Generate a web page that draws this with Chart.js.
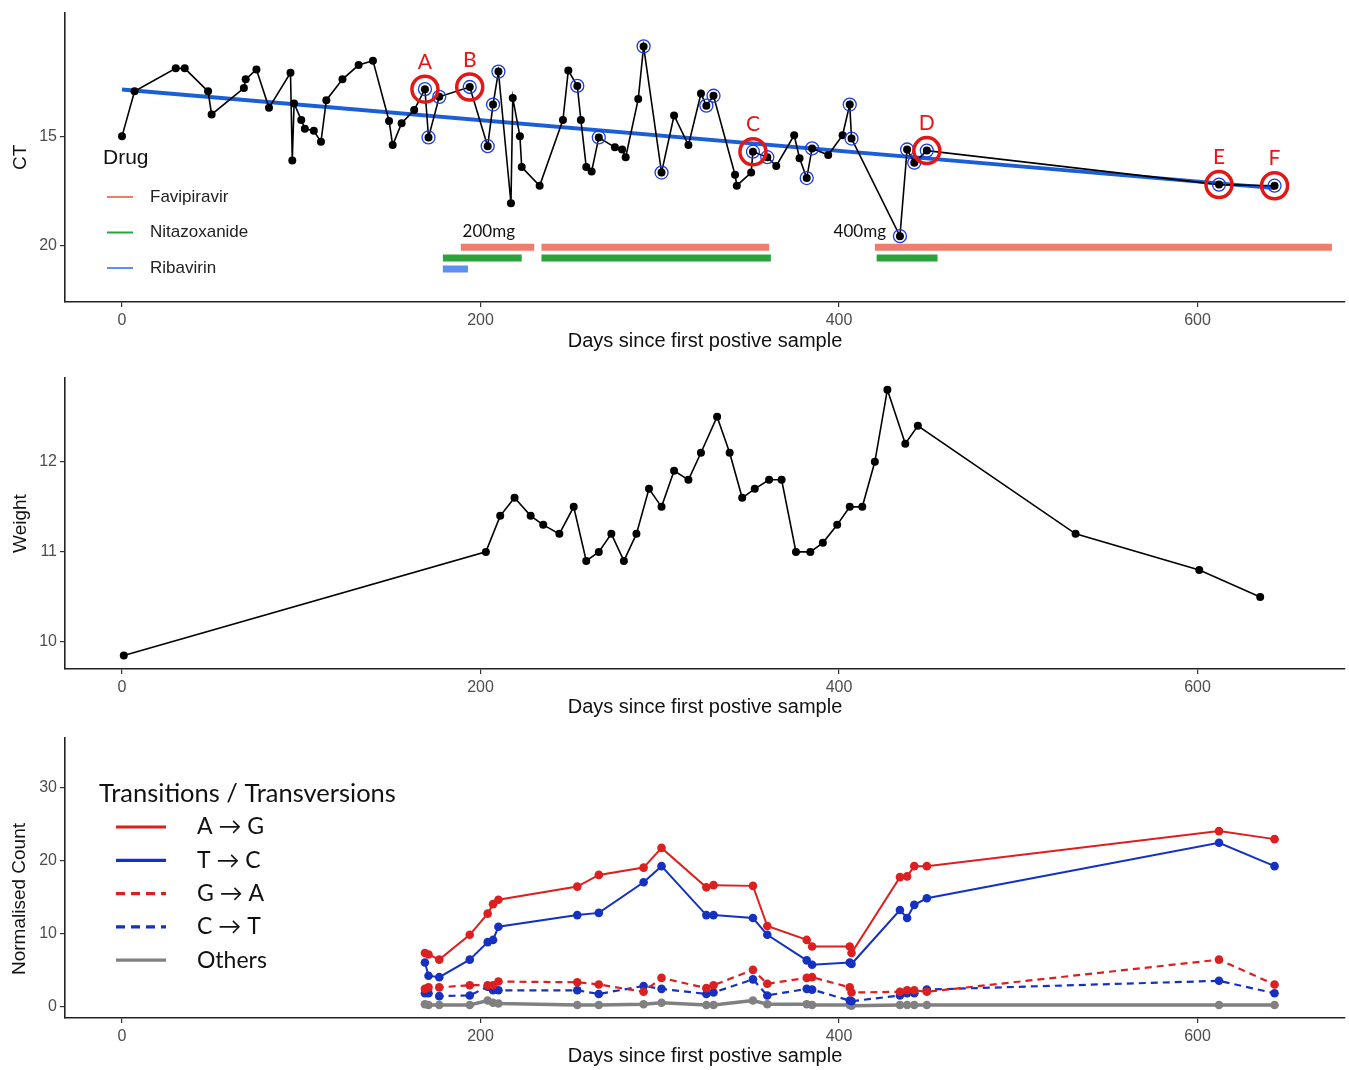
<!DOCTYPE html>
<html>
<head>
<meta charset="utf-8">
<script src="https://cdn.jsdelivr.net/npm/chart.js@4/dist/chart.umd.min.js"></script>
<style>
  body { margin: 0; background: #fff; }
  canvas { position: absolute; left: 0; }
  #ctChart { top: 0; }
  #weightChart { top: 360px; }
  #countChart { top: 725px; }
</style>
</head>
<body>
<canvas id="ctChart" width="1349" height="360"></canvas>
<canvas id="weightChart" width="1349" height="365"></canvas>
<canvas id="countChart" width="1349" height="345"></canvas>
<script>
// ---- data ----
const xTicks = [0, 200, 400, 600];
const ctTicks = [15, 20];
const weightTicks = [10, 11, 12];
const countTicks = [0, 10, 20, 30];

// CT values (top panel)
const ctDays = [0, 7, 30, 35, 48, 50, 68, 69, 75, 82, 94, 95, 96, 100, 102, 107, 111, 114, 123, 132,
  140, 149, 151, 156, 163, 169, 171, 177, 194, 204, 207, 210, 217, 218, 222, 223, 233, 246, 249, 254,
  256, 259, 262, 266, 275, 279, 281, 288, 291, 301, 308, 316, 323, 326, 330, 342, 343, 351, 352, 360,
  365, 375, 378, 382, 385, 394, 402, 406, 407, 434, 438, 442, 449, 612, 643];
const ctValues = [15.0, 12.95, 11.9, 11.9, 12.95, 14.0, 12.8, 12.4, 11.95, 13.7, 12.1, 16.1, 13.5, 14.25, 14.65, 14.75, 15.25, 13.35, 12.4, 11.75,
  11.55, 14.3, 15.4, 14.4, 13.8, 12.85, 15.05, 13.2, 12.75, 15.45, 13.55, 12.05, 18.05, 13.25, 15.0, 16.4, 17.25, 14.25, 12.0, 12.7,
  14.25, 16.4, 16.6, 15.05, 15.5, 15.6, 15.95, 13.3, 10.9, 16.65, 14.05, 15.4, 13.05, 13.6, 13.15, 16.75, 17.25, 16.65, 15.7, 15.95,
  16.35, 14.95, 16.0, 16.9, 15.55, 15.85, 14.95, 13.55, 15.1, 19.55, 15.6, 16.2, 15.65, 17.2, 17.25];
const fitDays = [0, 643];
const fitValues = [12.86, 17.36];

// sequenced samples (blue rings) and the labelled ones
const seqDays = [169, 171, 177, 194, 204, 207, 210, 254, 266, 291, 301, 326, 330, 352, 360, 382, 385,
  406, 407, 434, 438, 442, 449, 612, 643];
const markedDays = [169, 194, 352, 449, 612, 643];
const markedLabels = ['A', 'B', 'C', 'D', 'E', 'F'];

// drug courses
const drugNames = ['Favipiravir', 'Nitazoxanide', 'Ribavirin'];
const drugLevels = [20.05, 20.55, 21.05];
const favipiravirOn = [189, 234, 420];
const favipiravirOff = [230, 361, 675];
const nitazoxanideOn = [179, 234, 421];
const nitazoxanideOff = [223, 362, 455];
const ribavirinOn = [179];
const ribavirinOff = [193];
const doseDays = [190, 397];
const doseLabels = ['200mg', '400mg'];
const doseLevel = 19.36;

// weight (middle panel)
const weightDays = [1, 203, 211, 219, 228, 235, 244, 252, 259, 266, 273, 280, 287, 294, 301, 308, 316, 323, 332, 339,
  346, 353, 361, 368, 376, 384, 391, 399, 406, 413, 420, 427, 437, 444, 532, 601, 635];
const weightValues = [9.85, 11.0, 11.4, 11.6, 11.4, 11.3, 11.2, 11.5, 10.9, 11.0, 11.2, 10.9, 11.2, 11.7, 11.5, 11.9, 11.8, 12.1, 12.5, 12.1,
  11.6, 11.7, 11.8, 11.8, 11.0, 11.0, 11.1, 11.3, 11.5, 11.5, 12.0, 12.8, 12.2, 12.4, 11.2, 10.8, 10.5];

// normalised mutation counts (bottom panel), one value per sequenced day
const mutationLabels = ['A \u2192 G', 'T \u2192 C', 'G \u2192 A', 'C \u2192 T', 'Others'];
const agCounts = [7.3, 7.1, 6.4, 9.8, 12.7, 14.0, 14.6, 16.4, 18.0, 19.0, 21.7, 16.3, 16.6, 16.5, 11.0, 9.1, 8.2, 8.2, 7.3, 17.7, 17.8, 19.2, 19.2, 24.0, 22.9];
const tcCounts = [6.0, 4.2, 4.0, 6.4, 8.8, 9.1, 10.9, 12.5, 12.8, 17.0, 19.2, 12.5, 12.5, 12.1, 9.8, 6.3, 5.7, 6.0, 5.8, 13.2, 12.1, 13.9, 14.8, 22.4, 19.2];
const gaCounts = [2.4, 2.6, 2.6, 2.9, 2.9, 2.9, 3.4, 3.3, 3.0, 2.0, 3.9, 2.5, 2.9, 5.0, 3.1, 3.9, 4.0, 2.6, 1.9, 2.0, 2.2, 2.2, 2.0, 6.4, 3.0];
const ctCounts = [1.8, 1.8, 1.4, 1.5, 2.7, 2.2, 2.2, 2.2, 1.7, 2.8, 2.4, 1.7, 1.9, 3.7, 1.5, 2.4, 2.3, 0.8, 0.7, 1.5, 1.8, 1.8, 2.3, 3.5, 1.8];
const otherCounts = [0.3, 0.2, 0.2, 0.2, 0.8, 0.5, 0.4, 0.2, 0.2, 0.3, 0.5, 0.2, 0.2, 0.8, 0.3, 0.3, 0.2, 0.2, 0.1, 0.2, 0.2, 0.2, 0.2, 0.2, 0.2];

// ---- styling ----
const SANS = '"Liberation Sans", Arial, sans-serif';
const CALI = 'Lato, "Open Sans", sans-serif';
const drugColors = ['#ef7d6d', '#2ca23c', '#5b8ff0'];
const RED = '#dc1f1f';
const BLUE = '#1431c2';
const GREY = '#808080';

const pts = (xs, ys) => xs.map((x, i) => ({ x: x, y: ys[i] }));
const ctAt = d => ctValues[ctDays.indexOf(d)];

function courses(on, off, level) {
  const out = [];
  on.forEach((s, i) => {
    out.push({ x: s, y: level }, { x: off[i], y: level }, { x: off[i] + 0.5, y: null });
  });
  return out;
}

Chart.defaults.animation = false;
Chart.defaults.events = [];
Chart.defaults.plugins.legend.display = false;
Chart.defaults.plugins.tooltip.enabled = false;

function xAxis(height, titlePad) {
  return {
    type: 'linear', min: -31.8, max: 682.3,
    afterBuildTicks: s => { s.ticks = xTicks.map(v => ({ value: v })); },
    afterFit: s => { s.height = height; },
    grid: { drawOnChartArea: false, drawTicks: true, tickLength: 5, color: '#333', lineWidth: 1.2 },
    border: { color: '#222', width: 1.6 },
    ticks: { color: '#4d4d4d', font: { family: SANS, size: 16 }, padding: 4, maxRotation: 0 },
    title: { display: true, text: 'Days since first postive sample', color: '#111',
      font: { family: SANS, size: 20 }, padding: { top: 0, bottom: titlePad } }
  };
}

function yAxis(min, max, ticks, title, reverse) {
  return {
    type: 'linear', min: min, max: max, reverse: !!reverse,
    afterBuildTicks: s => { s.ticks = ticks.map(v => ({ value: v })); },
    afterFit: s => { s.width = 65; },
    grid: { drawOnChartArea: false, drawTicks: true, tickLength: 5, color: '#333', lineWidth: 1.2 },
    border: { color: '#222', width: 1.6 },
    ticks: { color: '#4d4d4d', font: { family: SANS, size: 16 }, padding: 3 },
    title: { display: !!title, text: title, color: '#111', font: { family: SANS, size: 19 },
      padding: { top: 9, bottom: 0 } }
  };
}

// ---- top panel: CT ----
const ctOverlay = {
  id: 'ctOverlay',
  afterDatasetsDraw(chart) {
    const { ctx, scales: { x, y } } = chart;
    ctx.save();
    ctx.textBaseline = 'middle';
    ctx.textAlign = 'left';
    ctx.fillStyle = '#111';
    ctx.font = '17px ' + CALI;
    doseDays.forEach((d, i) => ctx.fillText(doseLabels[i], x.getPixelForValue(d), y.getPixelForValue(doseLevel)));

    ctx.textAlign = 'center';
    ctx.fillStyle = '#e51616';
    ctx.font = '21px ' + CALI;
    markedDays.forEach((d, i) => {
      ctx.fillText(markedLabels[i], x.getPixelForValue(d), y.getPixelForValue(ctAt(d)) - 27);
    });

    // legend
    ctx.textAlign = 'left';
    ctx.fillStyle = '#111';
    ctx.font = '21px ' + SANS;
    ctx.fillText('Drug', 103, 158);
    ctx.font = '17px ' + SANS;
    drugNames.forEach((name, i) => {
      const ly = 197 + i * 35.5;
      ctx.strokeStyle = drugColors[i];
      ctx.lineWidth = 2;
      ctx.beginPath(); ctx.moveTo(107, ly); ctx.lineTo(133, ly); ctx.stroke();
      ctx.fillStyle = '#222';
      ctx.fillText(name, 150, ly);
    });
    ctx.restore();
  }
};

new Chart(document.getElementById('ctChart'), {
  type: 'line',
  data: {
    datasets: [
      { data: markedDays.map(d => ({ x: d, y: ctAt(d) })), showLine: false,
        pointRadius: 13, pointBorderWidth: 3.5, pointBorderColor: '#e51616', pointBackgroundColor: 'rgba(0,0,0,0)' },
      { data: seqDays.map(d => ({ x: d, y: ctAt(d) })), showLine: false,
        pointRadius: 6.5, pointBorderWidth: 1.3, pointBorderColor: '#1c3de0', pointBackgroundColor: 'rgba(0,0,0,0)' },
      { data: pts(ctDays, ctValues), borderColor: '#000', borderWidth: 1.6,
        pointRadius: 4, pointBorderWidth: 0, pointBackgroundColor: '#000' },
      { data: pts(fitDays, fitValues), borderColor: '#1a5fd8', borderWidth: 4, pointRadius: 0 },
      { data: courses(favipiravirOn, favipiravirOff, drugLevels[0]), borderColor: drugColors[0], borderWidth: 7, pointRadius: 0, spanGaps: false },
      { data: courses(nitazoxanideOn, nitazoxanideOff, drugLevels[1]), borderColor: drugColors[1], borderWidth: 7, pointRadius: 0, spanGaps: false },
      { data: courses(ribavirinOn, ribavirinOff, drugLevels[2]), borderColor: drugColors[2], borderWidth: 7, pointRadius: 0, spanGaps: false }
    ]
  },
  options: {
    responsive: false,
    layout: { autoPadding: false, padding: { top: 12, right: 4, left: 0, bottom: 0 } },
    scales: {
      x: xAxis(58, 7),
      y: yAxis(9.36, 22.55, ctTicks, 'CT', true)
    }
  },
  plugins: [ctOverlay]
});

// ---- middle panel: weight ----
new Chart(document.getElementById('weightChart'), {
  type: 'line',
  data: {
    datasets: [
      { data: pts(weightDays, weightValues), borderColor: '#000', borderWidth: 1.6,
        pointRadius: 4, pointBorderWidth: 0, pointBackgroundColor: '#000' }
    ]
  },
  options: {
    responsive: false,
    layout: { autoPadding: false, padding: { top: 18, right: 4, left: 0, bottom: 0 } },
    scales: {
      x: xAxis(56, 6),
      y: yAxis(9.7, 12.93, weightTicks, 'Weight')
    }
  }
});

// ---- bottom panel: mutation counts ----
const mutationColors = [RED, BLUE, RED, BLUE, GREY];
const mutationDash = [[], [], [7, 5], [7, 5], []];
const mutationWidth = [2, 2, 2.2, 2.2, 3.5];

const countOverlay = {
  id: 'countOverlay',
  afterDraw(chart) {
    const ctx = chart.ctx;
    ctx.save();
    ctx.fillStyle = '#111';
    ctx.textBaseline = 'middle';
    ctx.font = '19px ' + SANS;
    ctx.translate(20, 174);
    ctx.rotate(-Math.PI / 2);
    ctx.textAlign = 'center';
    ctx.fillText('Normalised Count', 0, 0);
    ctx.restore();

    ctx.save();
    ctx.textBaseline = 'middle';
    ctx.textAlign = 'left';
    ctx.fillStyle = '#111';
    ctx.font = '25.5px ' + CALI;
    ctx.fillText('Transitions / Transversions', 99, 69);
    ctx.font = '23px ' + CALI;
    mutationLabels.forEach((name, i) => {
      const ly = 102 + i * 33.3;
      ctx.strokeStyle = mutationColors[i];
      ctx.lineWidth = 3.2;
      ctx.setLineDash(i === 2 || i === 3 ? [9, 6] : []);
      ctx.beginPath(); ctx.moveTo(116, ly); ctx.lineTo(166, ly); ctx.stroke();
      ctx.setLineDash([]);
      ctx.fillText(name, 197, ly);
    });
    ctx.restore();
  }
};

const countSeries = [agCounts, tcCounts, gaCounts, ctCounts, otherCounts];

new Chart(document.getElementById('countChart'), {
  type: 'line',
  data: {
    datasets: countSeries.map((vals, i) => ({
      data: pts(seqDays, vals),
      borderColor: mutationColors[i], borderWidth: mutationWidth[i], borderDash: mutationDash[i],
      pointRadius: 4.3, pointBorderWidth: 0, pointBackgroundColor: mutationColors[i]
    }))
  },
  options: {
    responsive: false,
    layout: { autoPadding: false, padding: { top: 3, right: 4, left: 0, bottom: 0 } },
    scales: {
      x: xAxis(52, 2),
      y: yAxis(-1.59, 36.8, countTicks, '')
    }
  },
  plugins: [countOverlay]
});
</script>
</body>
</html>
